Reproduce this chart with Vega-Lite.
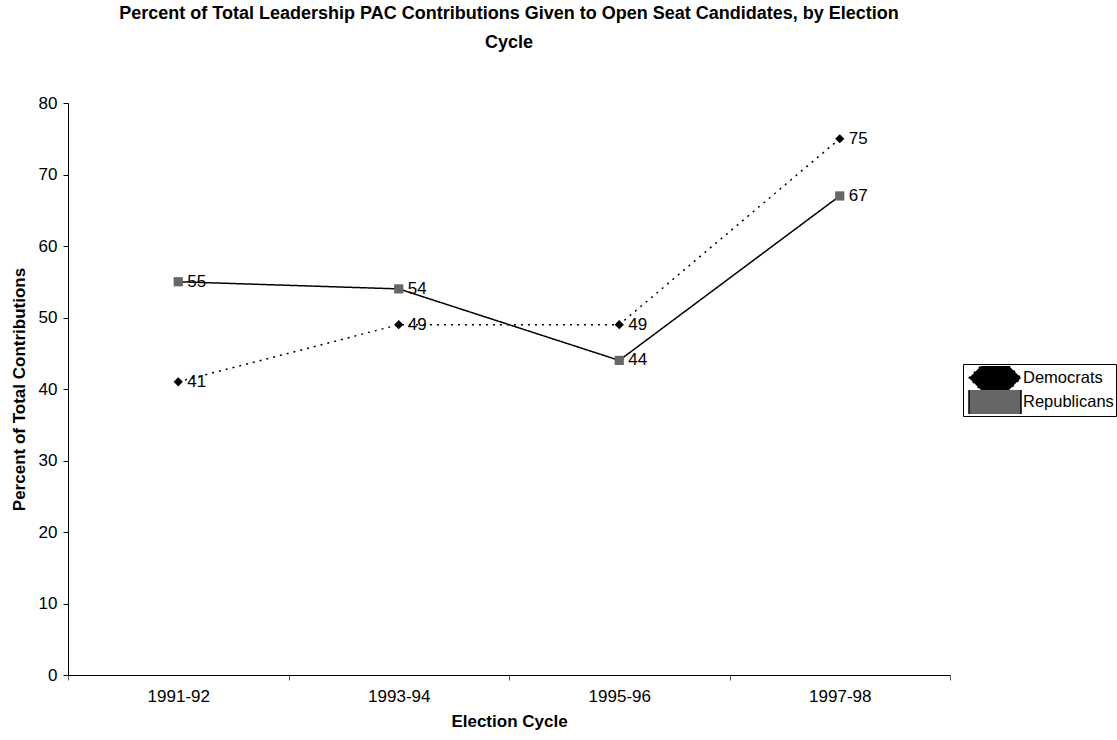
{
  "$schema": "https://vega.github.io/schema/vega-lite/v6.json",
  "autosize": "none",
  "width": 882,
  "height": 572,
  "padding": {"left": 68, "top": 103, "right": 167, "bottom": 65},
  "background": "white",
  "config": {
    "font": "Liberation Sans",
    "view": {"stroke": null},
    "axis": {"grid": false, "domainColor": "black", "tickColor": "black", "labelColor": "black", "titleColor": "black", "labelFont": "Liberation Sans", "titleFont": "Liberation Sans"}
  },
  "title": {
    "text": ["Percent of Total Leadership PAC Contributions Given to Open Seat Candidates, by Election", "Cycle"],
    "fontSize": 18, "fontWeight": "bold", "font": "Liberation Sans", "color": "black",
    "anchor": "middle", "frame": "group", "lineHeight": 29, "offset": 42
  },
  "data": {
    "values": [
      {"cycle": "1991-92", "party": "Democrats", "series": "Democrats", "value": 41},
      {"cycle": "1993-94", "party": "Democrats", "series": "Democrats", "value": 49},
      {"cycle": "1995-96", "party": "Democrats", "series": "Democrats", "value": 49},
      {"cycle": "1997-98", "party": "Democrats", "series": "Democrats", "value": 75},
      {"cycle": "1991-92", "party": "Republicans", "series": "Republicans", "value": 55},
      {"cycle": "1993-94", "party": "Republicans", "series": "Republicans", "value": 54},
      {"cycle": "1995-96", "party": "Republicans", "series": "Republicans", "value": 44},
      {"cycle": "1997-98", "party": "Republicans", "series": "Republicans", "value": 67}
    ]
  },
  "encoding": {
    "x": {
      "field": "cycle", "type": "ordinal", "sort": null,
      "scale": {"paddingInner": 0, "paddingOuter": 0},
      "axis": {"title": "Election Cycle", "titleFontSize": 17, "titleFontWeight": "bold", "titlePadding": 9, "labelAngle": 0, "labelFontSize": 17, "labelPadding": 8, "tickBand": "extent", "tickSize": 5, "domainWidth": 1, "tickColor": "#555"}
    },
    "y": {
      "field": "value", "type": "quantitative",
      "scale": {"domain": [0, 80], "nice": false},
      "axis": {"title": "Percent of Total Contributions", "titleFontSize": 17, "titleFontWeight": "bold", "titlePadding": 10, "values": [0, 10, 20, 30, 40, 50, 60, 70, 80], "labelFontSize": 17, "labelPadding": 6, "tickSize": 5}
    }
  },
  "layer": [
    {
      "mark": {"type": "line", "color": "black", "strokeWidth": 1.5},
      "encoding": {
        "strokeDash": {"field": "party", "type": "nominal", "scale": {"domain": ["Democrats", "Republicans"], "range": [[2, 5], [1, 0]]},
          "legend": {
            "title": null, "orient": "none", "legendX": 895, "legendY": 261,
            "strokeColor": "black", "fillColor": "white", "padding": 2,
            "symbolSize": 2704, "clipHeight": 24, "symbolOffset": 3,
            "labelFontSize": 16.5, "labelColor": "black", "labelOffset": 1, "rowPadding": 0
          }
        }
      }
    },
    {
      "mark": {"type": "point", "filled": true, "opacity": 1, "size": 85},
      "encoding": {
        "shape": {"field": "series", "type": "nominal", "scale": {"domain": ["Democrats", "Republicans"], "range": ["diamond", "square"]}, "legend": null},
        "fill": {"field": "series", "type": "nominal", "scale": {"domain": ["Democrats", "Republicans"], "range": ["black", "#666666"]}, "legend": null}
      }
    },
    {
      "mark": {"type": "text", "align": "left", "baseline": "middle", "dx": 9, "fontSize": 17, "color": "black"},
      "encoding": {"text": {"field": "value", "type": "quantitative"}}
    }
  ]
}
